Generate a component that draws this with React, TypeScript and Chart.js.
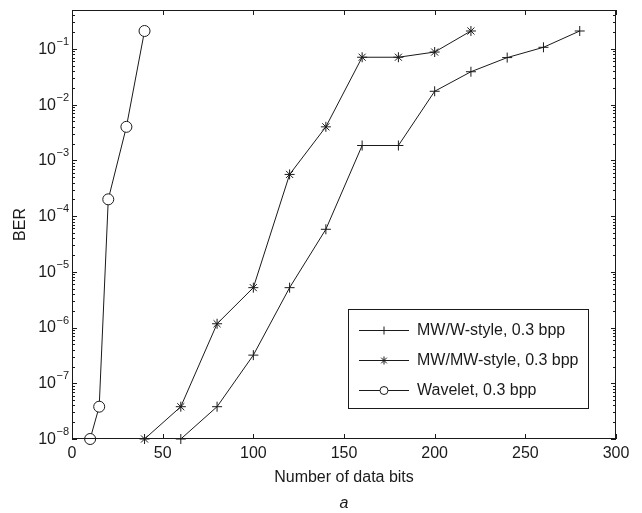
import React, { useEffect, useRef } from 'react';
import { Chart, registerables } from 'chart.js';
import { drawPoint } from 'chart.js/helpers';

Chart.register(...registerables);

// ---- data ----
const waveletBits = [10, 15, 20, 30, 40];
const waveletBER = [1e-8, 3.8e-8, 2e-4, 4e-3, 0.21];

const mwmwBits = [40, 60, 80, 100, 120, 140, 160, 180, 200, 220];
const mwmwBER = [1e-8, 3.8e-8, 1.17e-6, 5.2e-6, 5.6e-4, 4e-3, 0.071, 0.071, 0.088, 0.21];

const mwwBits = [60, 80, 100, 120, 140, 160, 180, 200, 220, 240, 260, 280];
const mwwBER = [1e-8, 3.8e-8, 3.2e-7, 5.2e-6, 5.8e-5, 1.85e-3, 1.85e-3, 0.0174, 0.039, 0.07, 0.107, 0.21];

const seriesLabels = ['MW/W-style, 0.3 bpp', 'MW/MW-style, 0.3 bpp', 'Wavelet, 0.3 bpp'];
const xTickValues = [0, 50, 100, 150, 200, 250, 300];
const yTickValues = [1e-8, 1e-7, 1e-6, 1e-5, 1e-4, 1e-3, 1e-2, 1e-1];
const yTickBase = '10';
const yTickExponents = ['−8', '−7', '−6', '−5', '−4', '−3', '−2', '−1'];
const xTitle = 'Number of data bits';
const yTitle = 'BER';
const caption = 'a';

const FONT = '"Liberation Sans", Arial, Helvetica, sans-serif';
const INK = '#1a1a1a';

const toPoints = (xs: number[], ys: number[]) => xs.map((x, i) => ({ x, y: ys[i] }));

const matlabPlugin = {
  id: 'matlabFrame',
  afterDraw(chart: any) {
    const { ctx, chartArea: a, scales } = chart;
    const xs = scales.x;
    const ys = scales.y;
    ctx.save();
    ctx.strokeStyle = INK;
    ctx.lineWidth = 1;
    // frame
    ctx.strokeRect(a.left + 0.5, a.top + 0.5, a.right - a.left - 1, a.bottom - a.top - 1);
    ctx.beginPath();
    const major = 5;
    const minor = 3;
    for (const v of xTickValues) {
      const px = Math.round(xs.getPixelForValue(v)) + 0.5;
      ctx.moveTo(px, a.bottom);
      ctx.lineTo(px, a.bottom - major);
      ctx.moveTo(px, a.top);
      ctx.lineTo(px, a.top + major);
    }
    for (const v of yTickValues) {
      const py = Math.round(ys.getPixelForValue(v)) + 0.5;
      ctx.moveTo(a.left, py);
      ctx.lineTo(a.left + major, py);
      ctx.moveTo(a.right, py);
      ctx.lineTo(a.right - major, py);
      for (let k = 2; k <= 9; k++) {
        const mv = v * k;
        if (mv > ys.max) break;
        const my = Math.round(ys.getPixelForValue(mv)) + 0.5;
        ctx.moveTo(a.left, my);
        ctx.lineTo(a.left + minor, my);
        ctx.moveTo(a.right, my);
        ctx.lineTo(a.right - minor, my);
      }
    }
    ctx.stroke();

    // y tick labels: 10 with superscript exponent
    ctx.fillStyle = INK;
    ctx.textBaseline = 'middle';
    ctx.textAlign = 'left';
    yTickValues.forEach((v, i) => {
      const py = ys.getPixelForValue(v);
      ctx.font = `11px ${FONT}`;
      const ew = ctx.measureText(yTickExponents[i]).width;
      ctx.font = `16px ${FONT}`;
      const bw = ctx.measureText(yTickBase).width;
      const right = a.left - 3;
      const bx = right - ew - bw - 0.5;
      ctx.fillText(yTickBase, bx, py + 0.5);
      ctx.font = `11px ${FONT}`;
      ctx.fillText(yTickExponents[i], bx + bw + 0.5, py - 7);
    });

    // legend
    const lx = 348, ly = 309, lw = 240, lh = 99;
    ctx.fillStyle = '#ffffff';
    ctx.fillRect(lx, ly, lw, lh);
    ctx.strokeStyle = INK;
    ctx.strokeRect(lx + 0.5, ly + 0.5, lw, lh);
    chart.data.datasets.forEach((ds: any, i: number) => {
      const y = ly + 21.5 + i * 30;
      ctx.beginPath();
      ctx.strokeStyle = INK;
      ctx.lineWidth = 1;
      ctx.moveTo(359, y);
      ctx.lineTo(409, y);
      ctx.stroke();
      ctx.fillStyle = '#ffffff';
      ctx.strokeStyle = INK;
      drawPoint(ctx, { pointStyle: ds.pointStyle, rotation: 0, radius: 4, borderWidth: 1 }, 384, y);
      ctx.fillStyle = INK;
      ctx.font = `16px ${FONT}`;
      ctx.textBaseline = 'middle';
      ctx.textAlign = 'left';
      ctx.fillText(ds.label, 417, y);
    });

    // caption
    ctx.fillStyle = INK;
    ctx.font = `italic 16px ${FONT}`;
    ctx.textAlign = 'center';
    ctx.textBaseline = 'middle';
    ctx.fillText(caption, (a.left + a.right) / 2, 504);
    ctx.restore();
  },
};

export default function App() {
  const ref = useRef<HTMLCanvasElement | null>(null);
  useEffect(() => {
    if (!ref.current) return;
    const common = { borderColor: INK, borderWidth: 1, pointBorderColor: INK, pointBorderWidth: 1, pointBackgroundColor: '#ffffff', showLine: true, clip: false as any, tension: 0 };
    const chart = new Chart(ref.current, {
      type: 'line',
      data: {
        datasets: [
          { ...common, label: seriesLabels[0], data: toPoints(mwwBits, mwwBER), pointStyle: 'cross', pointRadius: 5 },
          { ...common, label: seriesLabels[1], data: toPoints(mwmwBits, mwmwBER), pointStyle: 'star', pointRadius: 5 },
          { ...common, label: seriesLabels[2], data: toPoints(waveletBits, waveletBER), pointStyle: 'circle', pointRadius: 5.5 },
        ] as any,
      },
      options: {
        animation: false,
        responsive: true,
        maintainAspectRatio: false,
        layout: { padding: { top: 10, right: 26, left: 0, bottom: 0 } },
        plugins: { legend: { display: false }, tooltip: { enabled: false } },
        scales: {
          x: {
            type: 'linear',
            min: 0,
            max: 300,
            grid: { display: false, drawTicks: false },
            border: { display: false },
            afterBuildTicks: (s: any) => { s.ticks = xTickValues.map((v) => ({ value: v })); },
            afterFit: (s: any) => { s.height = 74; },
            ticks: { color: INK, font: { family: FONT, size: 16 }, padding: 5, maxRotation: 0 },
            title: { display: true, text: xTitle, color: INK, font: { family: FONT, size: 16 }, padding: { top: 0, bottom: 26 } },
          },
          y: {
            type: 'logarithmic',
            min: 1e-8,
            max: 0.5,
            grid: { display: false, drawTicks: false },
            border: { display: false },
            afterBuildTicks: (s: any) => { s.ticks = yTickValues.map((v) => ({ value: v })); },
            afterFit: (s: any) => { s.width = 72; },
            ticks: { display: false },
            title: { display: true, text: yTitle, color: INK, font: { family: FONT, size: 16 }, padding: { top: 11, bottom: 0 } },
          },
        },
      } as any,
      plugins: [matlabPlugin],
    });
    return () => chart.destroy();
  }, []);
  return (
    <div style={{ position: 'absolute', left: 0, top: 0, width: 642, height: 513, background: '#fff' }}>
      <canvas ref={ref} />
    </div>
  );
}
